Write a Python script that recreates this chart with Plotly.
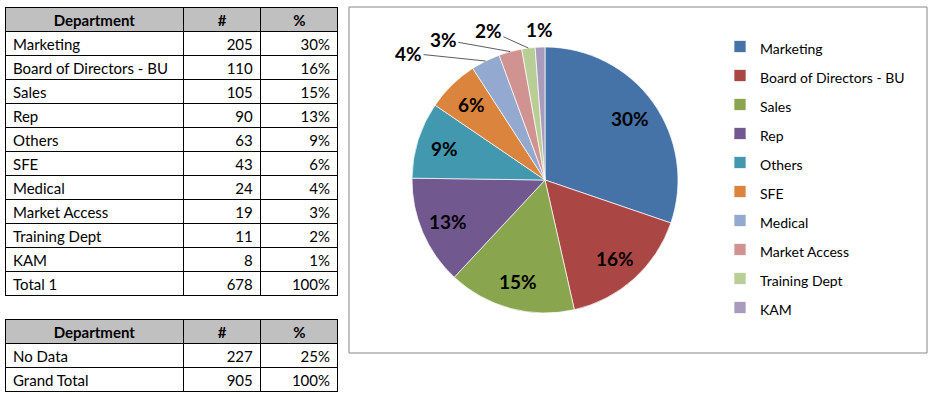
import math
import plotly.graph_objects as go

# ---- data ----
departments = ["Marketing", "Board of Directors - BU", "Sales", "Rep", "Others",
               "SFE", "Medical", "Market Access", "Training Dept", "KAM"]
counts = [205, 110, 105, 90, 63, 43, 24, 19, 11, 8]
pct_labels = ["30%", "16%", "15%", "13%", "9%", "6%", "4%", "3%", "2%", "1%"]
total_label, total_count, total_pct = "Total 1", 678, "100%"

summary_names = ["No Data", "Grand Total"]
summary_counts = [227, 905]
summary_pcts = ["25%", "100%"]

header = ["Department", "#", "%"]
colors = ["#4572A7", "#AA4643", "#89A54E", "#71588F", "#4198AF",
          "#DB843D", "#93A9CF", "#D19392", "#B9CD96", "#A99BBD"]

W, H = 934, 398
FONT = "Lato"


def px_x(v):
    return v / W


def px_y(v):
    return 1 - v / H


fig = go.Figure()

table_font = dict(family=FONT, size=15, color="black")
hdr_font = dict(family=FONT, size=15, color="black", weight="bold")

fig.add_trace(go.Table(
    domain=dict(x=[px_x(5), px_x(338)], y=[px_y(298), px_y(7)]),
    columnwidth=[178, 77, 77],
    header=dict(values=header, fill_color="#C0C0C0",
                line=dict(color="black", width=1), align="center",
                font=hdr_font, height=24),
    cells=dict(values=[departments + [total_label],
                       [str(c) for c in counts] + [str(total_count)],
                       pct_labels + [total_pct]],
               fill_color="white", line=dict(color="black", width=1),
               align=["left", "right", "right"], font=table_font, height=24),
))

fig.add_trace(go.Table(
    domain=dict(x=[px_x(5), px_x(338)], y=[px_y(396), px_y(319)]),
    columnwidth=[178, 77, 77],
    header=dict(values=header, fill_color="#C0C0C0",
                line=dict(color="black", width=1), align="center",
                font=hdr_font, height=24),
    cells=dict(values=[summary_names, [str(c) for c in summary_counts], summary_pcts],
               fill_color="white", line=dict(color="black", width=1),
               align=["left", "right", "right"], font=table_font, height=24),
))

legend_labels = [f'<span style="font-size:14px">{d}</span>' for d in departments]

n_inside = 6
pie_x0, pie_x1, pie_top, pie_bot = 412, 678, 47, 313

fig.add_trace(go.Pie(
    labels=legend_labels,
    values=counts,
    sort=False,
    direction="clockwise",
    rotation=0,
    marker=dict(colors=colors, line=dict(color="white", width=0.7)),
    textinfo="none",
    hoverinfo="label+value+percent",
    domain=dict(x=[px_x(pie_x0), px_x(pie_x1)], y=[px_y(pie_bot), px_y(pie_top)]),
    showlegend=True,
))

# data labels: inside ones at ~0.79 R on the slice mid-angle,
# small slices outside with leader lines to the slice edge
total = sum(counts)
cx = (pie_x0 + pie_x1) / 2
cy = (pie_top + pie_bot) / 2
R = (pie_x1 - pie_x0) / 2
label_font = dict(family=FONT, size=19, color="black")
outside_offsets = [(-77, -8), (-67, -12), (-40, -18), (-1, -18)]
cum = 0
for i, c in enumerate(counts):
    mid = (cum + c / 2) / total
    cum += c
    theta = 2 * math.pi * mid
    txt = f"<b>{round(100 * c / total)}%</b>"
    if i < n_inside:
        r_lab = 0.79 * R
        fig.add_annotation(
            x=px_x(cx + r_lab * math.sin(theta)), y=px_y(cy - r_lab * math.cos(theta)),
            xref="paper", yref="paper", text=txt, showarrow=False,
            xanchor="center", yanchor="middle", font=label_font)
    else:
        ax, ay = outside_offsets[i - n_inside]
        show_line = abs(ax) > 5
        fig.add_annotation(
            x=px_x(cx + R * math.sin(theta)), y=px_y(cy - R * math.cos(theta)),
            xref="paper", yref="paper", text=txt,
            showarrow=True, arrowhead=0, arrowwidth=0.8,
            arrowcolor="#333333" if show_line else "rgba(0,0,0,0)",
            ax=ax, ay=ay, axref="pixel", ayref="pixel",
            xanchor="center", yanchor="middle", font=label_font)

fig.add_shape(type="rect", xref="paper", yref="paper",
              x0=px_x(349), x1=px_x(927), y0=px_y(353), y1=px_y(7),
              line=dict(color="#868686", width=1), fillcolor="rgba(0,0,0,0)", layer="below")

fig.update_layout(
    width=W, height=H,
    margin=dict(l=0, r=0, t=0, b=0, autoexpand=False),
    paper_bgcolor="white",
    plot_bgcolor="white",
    font=dict(family=FONT, color="black"),
    legend=dict(x=px_x(720), y=px_y(27), xanchor="left", yanchor="top",
                font=dict(family=FONT, size=20, color="black"),
                bgcolor="rgba(0,0,0,0)", traceorder="normal"),
)

fig.write_html("out.html", config={"displayModeBar": False},
               post_script="document.body.style.margin='0';")
